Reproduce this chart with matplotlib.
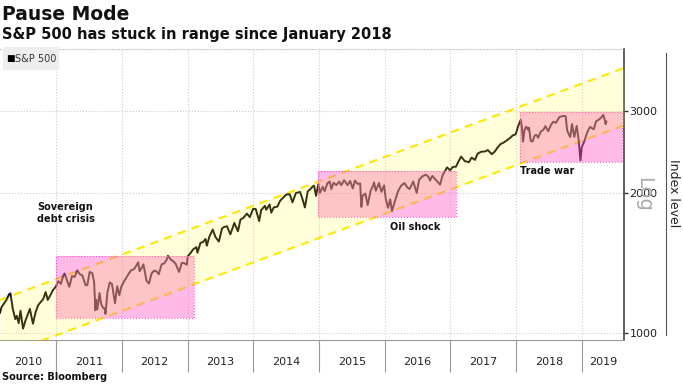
import matplotlib
matplotlib.use("Agg")
import matplotlib.pyplot as plt
import matplotlib.dates as mdates
from matplotlib.patches import Rectangle
from matplotlib.lines import Line2D
from matplotlib.ticker import FixedLocator, NullFormatter, NullLocator
import pandas as pd

plt.rcParams['font.family'] = ['DejaVu Sans']

# S&P 500 收盘价（从图上估读，约半月一个点）
spx_dates = [
    '2010-02-24', '2010-03-05', '2010-03-19', '2010-04-01', '2010-04-15', '2010-04-23', '2010-05-06',
    '2010-05-20', '2010-05-28', '2010-06-08', '2010-06-18', '2010-07-02', '2010-07-16', '2010-07-30',
    '2010-08-09', '2010-08-26', '2010-09-10', '2010-09-24', '2010-10-08', '2010-10-22', '2010-11-05',
    '2010-11-16', '2010-12-01', '2010-12-15', '2010-12-31',
    '2011-01-14', '2011-01-28', '2011-02-11', '2011-02-18', '2011-03-01', '2011-03-16', '2011-03-31',
    '2011-04-15', '2011-04-29', '2011-05-13', '2011-05-27', '2011-06-15', '2011-06-24', '2011-07-07',
    '2011-07-22', '2011-08-01', '2011-08-08', '2011-08-12', '2011-08-19', '2011-08-31', '2011-09-09',
    '2011-09-22', '2011-09-30', '2011-10-03', '2011-10-14', '2011-10-27', '2011-11-08', '2011-11-25',
    '2011-12-07', '2011-12-19', '2011-12-30',
    '2012-01-13', '2012-01-27', '2012-02-10', '2012-02-24', '2012-03-09', '2012-03-23', '2012-04-02',
    '2012-04-10', '2012-04-20', '2012-05-01', '2012-05-18', '2012-06-01', '2012-06-15', '2012-06-29',
    '2012-07-13', '2012-07-25', '2012-08-10', '2012-08-24', '2012-09-07', '2012-09-14', '2012-09-28',
    '2012-10-12', '2012-10-26', '2012-11-15', '2012-11-30', '2012-12-14', '2012-12-28',
    '2013-01-02', '2013-01-18', '2013-02-01', '2013-02-19', '2013-02-25', '2013-03-14', '2013-03-28',
    '2013-04-11', '2013-04-18', '2013-05-03', '2013-05-21', '2013-06-05', '2013-06-24', '2013-07-12',
    '2013-07-26', '2013-08-08', '2013-08-27', '2013-09-18', '2013-10-08', '2013-10-22', '2013-11-08',
    '2013-11-27', '2013-12-13', '2013-12-31',
    '2014-01-15', '2014-02-03', '2014-02-14', '2014-03-07', '2014-03-14', '2014-04-02', '2014-04-11',
    '2014-04-25', '2014-05-15', '2014-05-30', '2014-06-20', '2014-07-03', '2014-07-23', '2014-08-07',
    '2014-08-26', '2014-09-18', '2014-10-01', '2014-10-15', '2014-10-31', '2014-11-14', '2014-11-28',
    '2014-12-05', '2014-12-16', '2014-12-29',
    '2015-01-06', '2015-01-22', '2015-02-02', '2015-02-17', '2015-03-02', '2015-03-11', '2015-03-23',
    '2015-04-08', '2015-04-24', '2015-05-05', '2015-05-21', '2015-06-09', '2015-06-23', '2015-07-08',
    '2015-07-20', '2015-08-04', '2015-08-18', '2015-08-24', '2015-08-25', '2015-08-31', '2015-09-16',
    '2015-09-29', '2015-10-15', '2015-10-30', '2015-11-03', '2015-11-13', '2015-12-01', '2015-12-14',
    '2015-12-29',
    '2016-01-07', '2016-01-20', '2016-02-01', '2016-02-11', '2016-02-29', '2016-03-15', '2016-04-01',
    '2016-04-20', '2016-05-06', '2016-05-19', '2016-06-08', '2016-06-27', '2016-07-11', '2016-07-29',
    '2016-08-15', '2016-08-31', '2016-09-09', '2016-09-22', '2016-10-11', '2016-11-04', '2016-11-18',
    '2016-12-13', '2016-12-30',
    '2017-01-13', '2017-01-31', '2017-02-14', '2017-03-01', '2017-03-21', '2017-04-13', '2017-04-28',
    '2017-05-17', '2017-06-01', '2017-06-19', '2017-07-14', '2017-07-27', '2017-08-11', '2017-08-18',
    '2017-09-05', '2017-09-20', '2017-10-06', '2017-10-24', '2017-11-08', '2017-11-28', '2017-12-13',
    '2017-12-29',
    '2018-01-12', '2018-01-26', '2018-02-02', '2018-02-08', '2018-02-16', '2018-02-26', '2018-03-08',
    '2018-03-13', '2018-03-23', '2018-04-02', '2018-04-13', '2018-04-23', '2018-05-03', '2018-05-18',
    '2018-06-01', '2018-06-12', '2018-06-28', '2018-07-13', '2018-07-25', '2018-08-10', '2018-08-29',
    '2018-09-20', '2018-10-03', '2018-10-11', '2018-10-24', '2018-10-29', '2018-11-07', '2018-11-20',
    '2018-12-03', '2018-12-14', '2018-12-24', '2018-12-31',
    '2019-01-14', '2019-01-31', '2019-02-15', '2019-03-08', '2019-03-21', '2019-04-03', '2019-04-18',
    '2019-04-30', '2019-05-07', '2019-05-13', '2019-05-17',
]
spx_close = [
    1105, 1138, 1159, 1178, 1211, 1217, 1128,
    1071, 1089, 1050, 1117, 1022, 1065, 1101,
    1127, 1047, 1109, 1148, 1165, 1183, 1225,
    1178, 1206, 1236, 1258,
    1293, 1276, 1329, 1343, 1306, 1257, 1326,
    1320, 1364, 1338, 1331, 1266, 1268, 1353,
    1345, 1287, 1119, 1179, 1124, 1219, 1154,
    1129, 1131, 1099, 1225, 1285, 1275, 1159,
    1261, 1206, 1258,
    1289, 1316, 1343, 1366, 1371, 1397, 1419,
    1358, 1378, 1405, 1295, 1278, 1343, 1362,
    1357, 1338, 1405, 1411, 1438, 1466, 1441,
    1428, 1411, 1353, 1416, 1413, 1402,
    1462, 1486, 1513, 1530, 1488, 1563, 1569,
    1593, 1541, 1614, 1669, 1609, 1573, 1680,
    1692, 1697, 1630, 1725, 1655, 1754, 1770,
    1807, 1775, 1848,
    1848, 1741, 1838, 1878, 1841, 1890, 1815,
    1863, 1870, 1924, 1962, 1985, 1988, 1910,
    2000, 2011, 1946, 1862, 2018, 2039, 2068,
    2075, 1972, 2090,
    2002, 2063, 2020, 2100, 2117, 2040, 2104,
    2081, 2117, 2080, 2131, 2080, 2124, 2046,
    2128, 2093, 2097, 1893, 1867, 1972, 1995,
    1884, 2023, 2079, 2109, 2023, 2102, 2012,
    2078,
    1944, 1859, 1940, 1829, 1932, 2015, 2073,
    2102, 2057, 2040, 2119, 2001, 2137, 2173,
    2190, 2171, 2128, 2177, 2136, 2085, 2182,
    2271, 2239,
    2275, 2279, 2337, 2396, 2344, 2329, 2384,
    2357, 2431, 2453, 2459, 2475, 2441, 2425,
    2458, 2508, 2549, 2569, 2594, 2627, 2662,
    2674,
    2786, 2873, 2762, 2581, 2732, 2779, 2738,
    2765, 2588, 2582, 2656, 2670, 2630, 2713,
    2735, 2786, 2716, 2801, 2846, 2833, 2914,
    2931, 2925, 2728, 2656, 2641, 2814, 2641,
    2790, 2600, 2351, 2507,
    2582, 2704, 2775, 2743, 2854, 2873, 2905,
    2946, 2884, 2812, 2850,
]

# 通道线（上下虚线，两端点）
channel_dates = ['2010-02-24', '2019-08-23']
channel_upper = [1178, 3716]
channel_lower = [892, 2799]

# 三个盘整区间
box_labels = ['Sovereign\ndebt crisis', 'Oil shock', 'Trade war']
box_start = ['2011-01-01', '2014-12-28', '2018-01-22']
box_end = ['2013-02-05', '2017-02-01', '2019-08-10']
box_low = [1077, 1775, 2333]
box_high = [1464, 2229, 2986]

year_labels = ['2010', '2011', '2012', '2013', '2014', '2015', '2016', '2017', '2018', '2019']
year_starts = ['2011-01-01', '2012-01-01', '2013-01-01', '2014-01-01', '2015-01-01',
               '2016-01-01', '2017-01-01', '2018-01-01', '2019-01-01']
y_ticks = [1000, 2000, 3000]

W, H = 683, 384


def fx(x):
    return x / W


def fy(y):
    return 1 - y / H


fig = plt.figure(figsize=(W / 100, H / 100), dpi=100)
ax = fig.add_axes([0, fy(340), fx(624), fy(49) - fy(340)])

d = mdates.date2num(pd.to_datetime(spx_dates))
x_lo, x_hi = mdates.date2num(pd.to_datetime(channel_dates))

ax.set_yscale('log')
ax.set_xlim(x_lo, x_hi)
ax.set_ylim(966, 4082)

# 通道：虚线 + 浅黄色填充
cd = [x_lo, x_hi]
ax.plot(cd, channel_upper, color='#ffe600', lw=1.5, dashes=(4, 3), zorder=2)
ax.plot(cd, channel_lower, color='#ffe600', lw=1.5, dashes=(4, 3), zorder=2)
ax.fill_between(cd, channel_lower, channel_upper, color='#ffff00', alpha=0.15, lw=0, zorder=5)

ax.plot(d, spx_close, color='#111111', lw=1.4, zorder=3)

# 粉色矩形（盖在价格线上面）
for s, e, lo, hi in zip(box_start, box_end, box_low, box_high):
    s_n, e_n = mdates.date2num(pd.to_datetime([s, e]))
    ax.add_patch(Rectangle((s_n, lo), e_n - s_n, hi - lo, facecolor='#ff66cc', alpha=0.45,
                           edgecolor='none', zorder=4))
    ax.add_patch(Rectangle((s_n, lo), e_n - s_n, hi - lo, facecolor='none',
                           edgecolor='#ff55cc', lw=0.8, ls=':', zorder=4))

# y 轴（右侧，对数）
ax.yaxis.tick_right()
ax.yaxis.set_major_locator(FixedLocator(y_ticks))
ax.yaxis.set_minor_locator(NullLocator())
ax.set_yticklabels([str(v) for v in y_ticks])
ax.tick_params(axis='y', which='major', direction='out', length=3, width=1, color='#333333',
               labelsize=8, labelcolor='#222222', pad=1)

# x 轴：年份分隔线 + 居中标签
ys = mdates.date2num(pd.to_datetime(year_starts))
bounds = [x_lo] + list(ys) + [x_hi]
centers = [(bounds[i] + bounds[i + 1]) / 2 for i in range(len(year_labels))]
ax.xaxis.set_major_locator(FixedLocator(ys))
ax.xaxis.set_major_formatter(NullFormatter())
ax.xaxis.set_minor_locator(FixedLocator(centers))
ax.set_xticklabels(year_labels, minor=True)
ax.tick_params(axis='x', which='major', direction='out', length=23, width=0.8, color='#999999')
ax.tick_params(axis='x', which='minor', length=0, labelsize=8, labelcolor='#222222', pad=12)

ax.grid(axis='x', which='major', color='#cccccc', ls=':', lw=0.8)
ax.grid(axis='y', which='major', color='#cccccc', ls=':', lw=0.8)
ax.set_axisbelow(True)

ax.spines['left'].set_visible(False)
ax.spines['top'].set_color('#cccccc')
ax.spines['top'].set_linestyle(':')
ax.spines['top'].set_linewidth(0.8)
ax.spines['bottom'].set_color('#999999')
ax.spines['right'].set_color('#444444')
ax.spines['right'].set_linewidth(1.2)

# 标题
fig.text(fx(2), fy(14), 'Pause Mode', fontsize=13.5, fontweight='bold', va='center', color='#111111')
fig.text(fx(2), fy(35), 'S&P 500 has stuck in range since January 2018', fontsize=10.5,
         fontweight='bold', va='center', color='#111111')

# 图例
fig.patches.append(Rectangle((fx(3), fy(70)), fx(56), fy(47) - fy(70), transform=fig.transFigure,
                             facecolor='#eeeeee', edgecolor='none', zorder=10))
fig.text(fx(6), fy(59), '■', fontsize=6.5, va='center', color='#000000', zorder=11)
fig.text(fx(15), fy(59), 'S&P 500', fontsize=7, va='center', color='#333333', zorder=11)

# 区间注释
annot_px = [(37, 213), (390, 227), (520, 171)]
for (tx, ty), lab in zip(annot_px, box_labels):
    fig.text(fx(tx), fy(ty), lab, fontsize=7, fontweight='bold', va='center', ha='left',
             linespacing=1.3, color='#111111')

# 右侧 Log 水印与轴标题
fig.text(fx(644), fy(194), 'Log', fontsize=14, rotation=270, color='#aaaaaa', ha='center', va='center')
fig.text(fx(674), fy(193), 'Index level', fontsize=9, rotation=270, color='#222222',
         ha='center', va='center')
fig.add_artist(Line2D([fx(666), fx(666)], [fy(53), fy(335)], color='#555555', lw=0.8))

fig.text(fx(2), fy(377), 'Source: Bloomberg', fontsize=7, fontweight='bold', va='center', color='#111111')

fig.savefig('out.png', dpi=100)
